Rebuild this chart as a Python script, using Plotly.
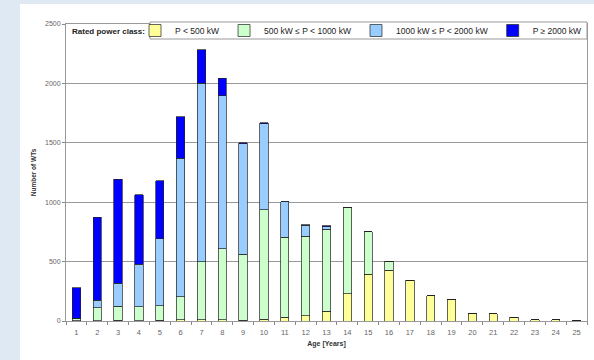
import plotly.graph_objects as go

ages = [str(i) for i in range(1, 26)]
p_lt_500 = [3, 2, 5, 3, 8, 10, 10, 10, 8, 15, 30, 45, 82, 230, 393, 427, 342, 213, 183, 59, 62, 31, 12, 10, 5]
p_500_1000 = [19, 110, 121, 115, 121, 195, 489, 599, 553, 920, 675, 668, 690, 725, 359, 75, 0, 0, 0, 0, 0, 0, 0, 0, 0]
p_1000_2000 = [3, 62, 191, 359, 564, 1165, 1502, 1285, 929, 725, 300, 92, 23, 0, 0, 0, 0, 0, 0, 0, 0, 0, 0, 0, 0]
p_ge_2000 = [253, 699, 876, 586, 488, 350, 281, 149, 11, 10, 0, 6, 7, 0, 0, 0, 0, 0, 0, 0, 0, 0, 0, 0, 0]

series = [
    ("P < 500 kW", p_lt_500, "#ffff99"),
    ("500 kW ≤ P < 1000 kW", p_500_1000, "#ccffcc"),
    ("1000 kW ≤ P < 2000 kW", p_1000_2000, "#99ccff"),
    ("P ≥ 2000 kW", p_ge_2000, "#0000ff"),
]

fig = go.Figure()
for name, vals, col in series:
    fig.add_trace(go.Bar(x=ages, y=vals, name=name,
                         marker=dict(color=col, line=dict(color="#222222", width=0.7))))

W, H = 594, 360
L, R, T, B = 66, 7, 24, 39
pw, ph = W - L - R, H - T - B
BG = "#dfe9f4"

def px_x(p):
    return (p - L) / pw

def px_y(p):
    return (T + ph - p) / ph

fig.update_layout(
    width=W, height=H,
    margin=dict(l=L, r=R, t=T, b=B),
    barmode="stack", bargap=0.6,
    paper_bgcolor="white", plot_bgcolor="white",
    font=dict(family="Liberation Sans, Arial, sans-serif", size=7, color="#555555"),
    showlegend=True,
    legend=dict(orientation="h", x=1.0, y=px_y(16), xanchor="right", yanchor="top",
                bgcolor="rgba(0,0,0,0)", borderwidth=0,
                font=dict(size=8.5, color="#222222"), traceorder="normal",
                itemwidth=30),
    shapes=[
        dict(type="rect", xref="paper", yref="paper",
             x0=px_x(-5), x1=px_x(20), y0=px_y(H + 5), y1=px_y(-5),
             fillcolor=BG, line=dict(width=0), layer="below"),
        dict(type="rect", xref="paper", yref="paper",
             x0=px_x(-5), x1=px_x(W + 5), y0=px_y(4), y1=px_y(-5),
             fillcolor=BG, line=dict(width=0), layer="below"),
        dict(type="rect", xref="paper", yref="paper",
             x0=px_x(150), x1=px_x(587), y0=px_y(39), y1=px_y(22),
             fillcolor="white", line=dict(width=1, color="#999999"), layer="above"),
    ],
    annotations=[dict(text="<b>Rated power class:</b>", xref="paper", yref="paper",
                      x=px_x(70), y=px_y(31), xanchor="left", yanchor="middle",
                      showarrow=False, font=dict(size=8, color="#222222"))],
)
fig.update_xaxes(type="category", tickson="boundaries", ticks="outside", ticklen=3,
                 tickcolor="#888888", showline=True, linecolor="#999999", linewidth=1,
                 mirror=True, showgrid=False, ticklabelstandoff=4,
                 title=dict(text="<b>Age [Years]</b>", font=dict(size=7, color="#333333"), standoff=5),
                 tickfont=dict(size=7.5, color="#666666"))
fig.update_yaxes(range=[0, 2500], dtick=500, ticks="outside", ticklen=3, tickcolor="#888888",
                 showline=True, linecolor="#999999", linewidth=1, mirror=True,
                 showgrid=True, gridcolor="#999999", gridwidth=1, zeroline=False,
                 title=dict(text="<b>Number of WTs</b>", font=dict(size=6.5, color="#333333"), standoff=7),
                 tickfont=dict(size=7, color="#666666"))

fig.write_html("out.html", config={"displayModeBar": False},
               post_script="document.documentElement.style.overflow='hidden';document.body.style.margin='0';document.body.style.overflow='hidden';")
